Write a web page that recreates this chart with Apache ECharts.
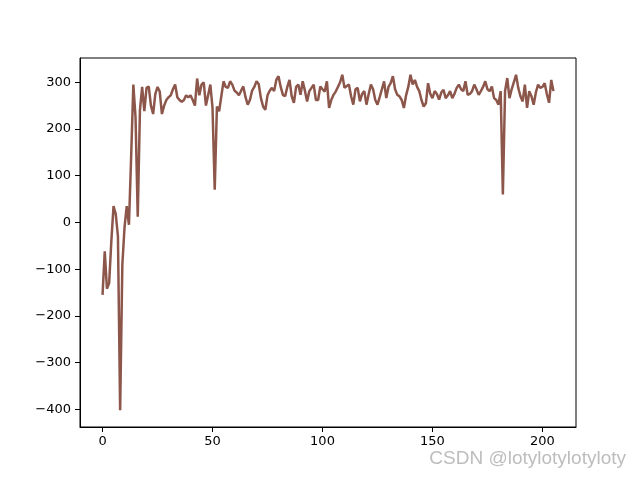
<!DOCTYPE html>
<html>
<head>
<meta charset="utf-8">
<script src="https://cdn.jsdelivr.net/npm/echarts@6/dist/echarts.min.js"></script>
<style>html,body{margin:0;padding:0;background:#fff}#c{width:640px;height:480px}</style>
</head>
<body>
<div id="c"></div>
<script>
const rewards = [
  -155, -62, -142, -130, -40, 35, 18, -30, -402, -90,
  -10, 35, -5, 140, 295, 225, 12, 240, 290, 238,
  288, 291, 250, 232, 275, 290, 280, 232, 250, 262,
  268, 272, 285, 295, 268, 262, 258, 262, 272, 268,
  272, 262, 250, 308, 272, 295, 300, 250, 272, 295,
  245, 70, 248, 238, 270, 302, 290, 288, 302, 295,
  282, 278, 272, 282, 291, 268, 252, 262, 282, 290,
  302, 296, 266, 248, 241, 272, 282, 288, 281, 305,
  313, 290, 273, 270, 290, 305, 270, 256, 290, 295,
  273, 302, 282, 259, 281, 288, 295, 262, 262, 291,
  285, 280, 302, 245, 262, 273, 280, 290, 300, 316,
  288, 292, 295, 270, 252, 285, 288, 259, 275, 281,
  252, 275, 295, 285, 262, 252, 268, 285, 302, 266,
  290, 298, 313, 285, 273, 270, 262, 245, 272, 290,
  316, 295, 305, 290, 281, 262, 248, 255, 298, 275,
  266, 281, 275, 263, 278, 284, 266, 272, 281, 266,
  275, 288, 295, 285, 281, 302, 273, 275, 281, 295,
  285, 273, 281, 290, 302, 285, 281, 291, 266, 262,
  252, 281, 60, 281, 309, 266, 285, 300, 316, 288,
  270, 259, 295, 245, 281, 270, 252, 278, 295, 288,
  290, 298, 275, 256, 305, 281
];
const xTicks = [0, 50, 100, 150, 200];
const yTicks = [-400, -300, -200, -100, 0, 100, 200, 300];
const watermark = 'CSDN @lotylotylotyloty';

const episodes = rewards.map((v, i) => i);
const n = rewards.length - 1;
const ymin = Math.min(...rewards), ymax = Math.max(...rewards);
const xpad = n * 0.05, ypad = (ymax - ymin) * 0.05;

const chart = echarts.init(document.getElementById('c'), null, {renderer: 'canvas'});
const font = 'DejaVu Sans';
chart.setOption({
  animation: false,
  backgroundColor: '#fff',
  grid: {left: 80, right: 64, top: 58, bottom: 53, show: true, borderColor: '#000', borderWidth: 1, backgroundColor: 'transparent'},
  xAxis: {
    type: 'value', min: -xpad, max: n + xpad,
    axisLine: {show: true, onZero: false, lineStyle: {color: '#000', width: 1}},
    splitLine: {show: false},
    axisTick: {show: true, inside: false, length: 5, lineStyle: {color: '#000'}, customValues: xTicks},
    axisLabel: {color: '#000', fontFamily: font, fontSize: 13, margin: 8, customValues: xTicks}
  },
  yAxis: {
    type: 'value', min: ymin - ypad, max: ymax + ypad,
    axisLine: {show: true, onZero: false, lineStyle: {color: '#000', width: 1}},
    splitLine: {show: false},
    axisTick: {show: true, inside: false, length: 5, lineStyle: {color: '#000'}, customValues: yTicks},
    axisLabel: {color: '#000', fontFamily: font, fontSize: 13, margin: 9, customValues: yTicks,
      formatter: v => (v < 0 ? '\u2212' + Math.abs(v) : String(v))}
  },
  series: [{
    type: 'line',
    data: episodes.map((x, i) => [x, rewards[i]]),
    showSymbol: false,
    lineStyle: {color: '#8c564b', width: 2.5},
    itemStyle: {color: '#8c564b'}
  }],
  graphic: [{
    type: 'text', right: 14, top: 449,
    style: {text: watermark, fill: '#bdbdbd', font: '19px "Liberation Sans", Arial, sans-serif'}
  }]
});
</script>
</body>
</html>
